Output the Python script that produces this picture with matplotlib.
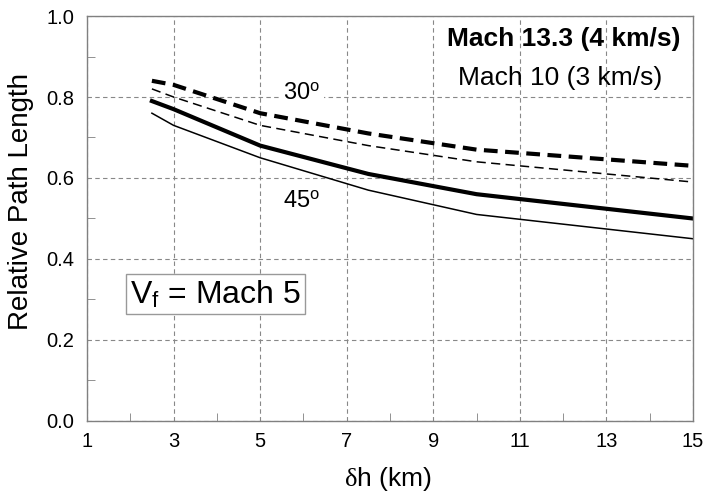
import matplotlib
matplotlib.use('Agg')
import numpy as np
import matplotlib.pyplot as plt
from matplotlib.ticker import MultipleLocator

plt.rcParams['font.family'] = ['Liberation Sans', 'DejaVu Sans']
plt.rcParams['mathtext.fontset'] = 'custom'
plt.rcParams['mathtext.rm'] = 'Liberation Serif'
plt.rcParams['mathtext.it'] = 'Liberation Serif'

# data
dh = [2.5, 3, 5, 7.5, 10, 15]
m13_30 = [0.84, 0.83, 0.76, 0.71, 0.67, 0.63]
m10_30 = [0.82, 0.80, 0.73, 0.68, 0.64, 0.59]
m13_45 = [0.79, 0.77, 0.68, 0.61, 0.56, 0.50]
m10_45 = [0.76, 0.73, 0.65, 0.57, 0.51, 0.45]

xticks = [1, 3, 5, 7, 9, 11, 13, 15]
yticks = [0.0, 0.2, 0.4, 0.6, 0.8, 1.0]

fig = plt.figure(figsize=(7.06, 4.94), dpi=100)
ax = fig.add_axes([0.1232, 0.1478, 0.8584, 0.8198])

ax.plot(dh, m13_30, color='black', lw=3, dashes=(3.3, 1.8))
ax.plot(dh, m10_30, color='black', lw=1.1, dashes=(6, 3.5))
ax.plot(dh, m13_45, color='black', lw=3)
ax.plot(dh, m10_45, color='black', lw=1.1)

ax.set_xlim(1, 15)
ax.set_ylim(0, 1.0)
ax.set_xticks(xticks)
ax.set_yticks(yticks)
ax.set_yticklabels(['%.1f' % v for v in yticks])
ax.xaxis.set_minor_locator(MultipleLocator(1))
ax.yaxis.set_minor_locator(MultipleLocator(0.1))
ax.tick_params(which='both', direction='in', labelsize=14.5, color='#808080')
ax.tick_params(which='major', length=0)
ax.tick_params(which='minor', length=6)
ax.tick_params(axis='x', pad=8)
ax.tick_params(axis='y', pad=9)
ax.grid(True, which='major', color='#888888', lw=0.8, dashes=(4, 3))
for s in ax.spines.values():
    s.set_color('#808080')
    s.set_linewidth(1.0)

ax.set_ylabel('Relative Path Length', fontsize=20)
ax.yaxis.set_label_coords(-0.088, 0.543)
ax.set_xlabel(r'$\delta$h (km)', fontsize=19, va='top')
ax.xaxis.set_label_coords(0.497, -0.108)

ax.text(5.53, 0.795, r'30$^\mathregular{o}$', fontsize=17, ha='left', va='baseline',
        bbox=dict(facecolor='white', edgecolor='none', pad=3))
ax.text(5.53, 0.528, r'45$^\mathregular{o}$', fontsize=17, ha='left', va='baseline')

ax.text(14.70, 0.926, 'Mach 13.3 (4 km/s)', fontsize=19, fontweight='bold', ha='right', va='baseline')
ax.text(14.28, 0.830, 'Mach 10 (3 km/s)', fontsize=19, ha='right', va='baseline')

ax.text(1.99, 0.291, r'V$_\mathregular{f}$ = Mach 5', fontsize=23, ha='left', va='baseline',
        bbox=dict(facecolor='white', edgecolor='#999999', lw=1.0, pad=3))

fig.savefig('out.png', dpi=100)
